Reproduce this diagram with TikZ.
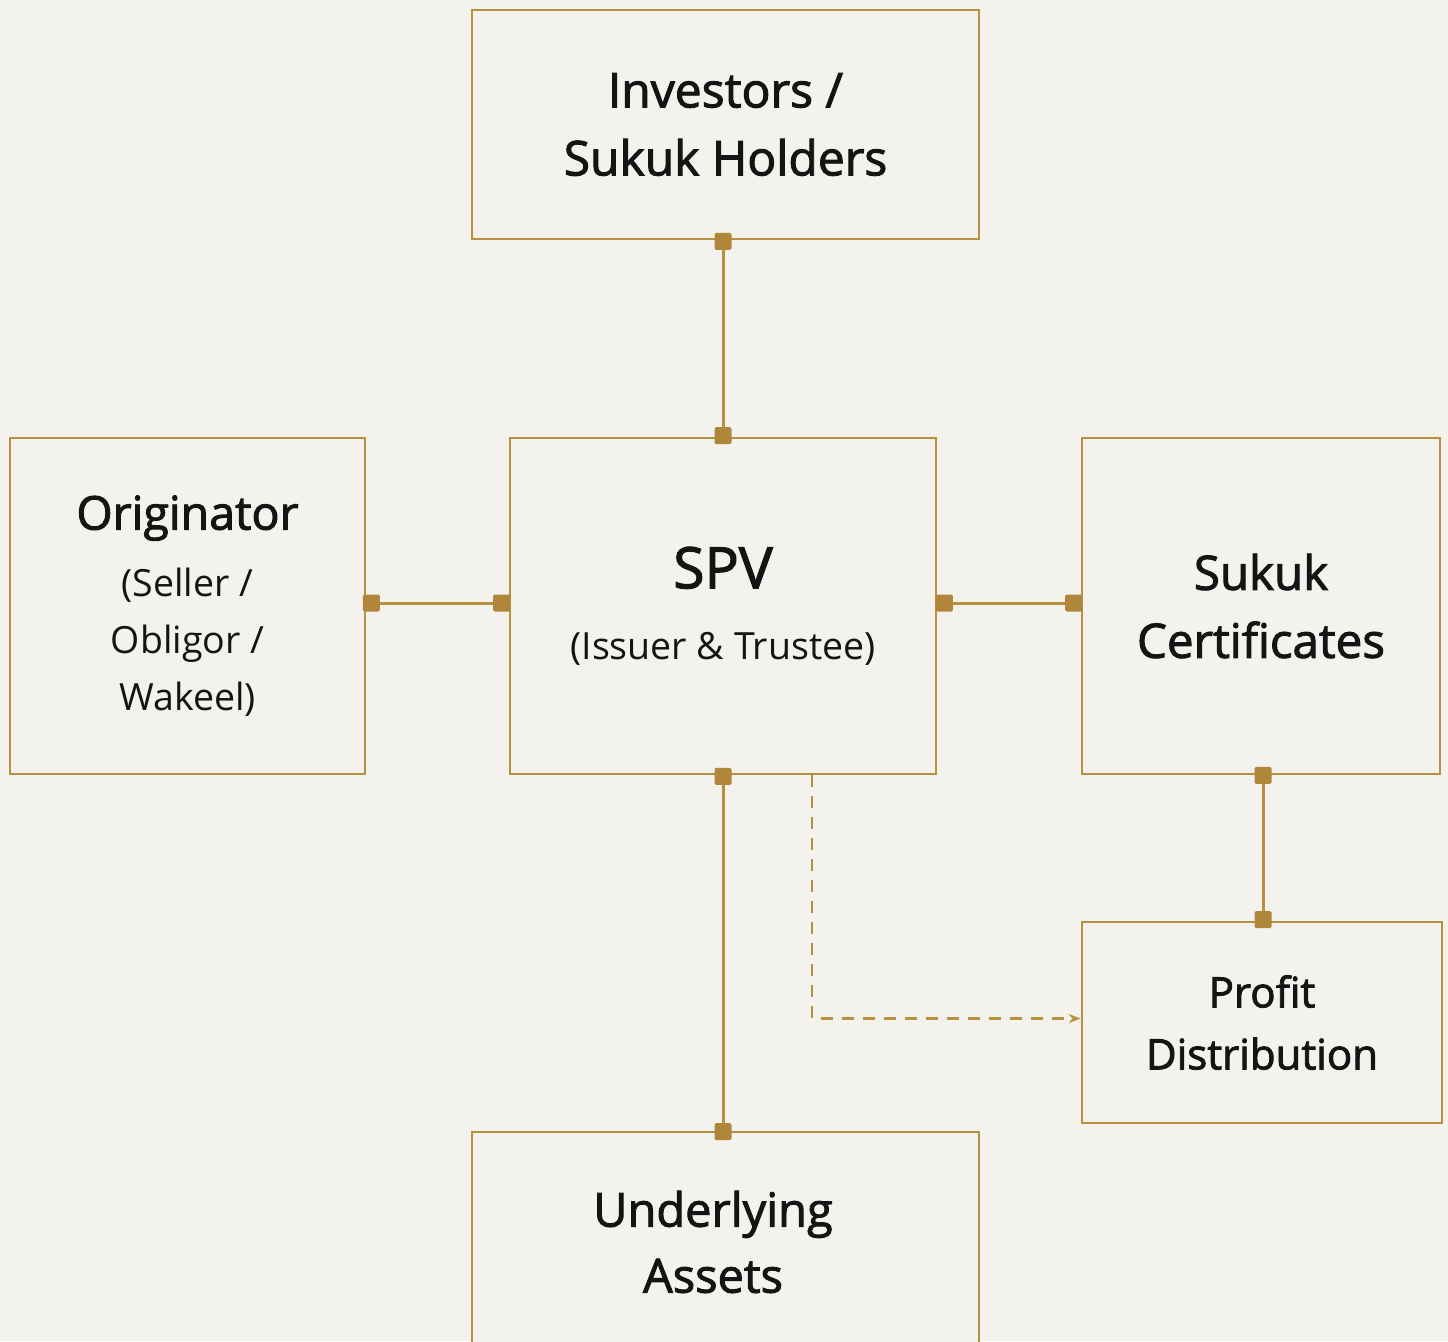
\documentclass[tikz,border=0pt]{standalone}
\usepackage{fontspec}
\setmainfont{Open Sans}
\newfontfamily\headfont[FakeBold=2]{Open Sans}
\newfontfamily\bodyfont{Open Sans}
\usetikzlibrary{arrows.meta,calc}
\definecolor{bgcream}{HTML}{F4F2ED}
\definecolor{gold}{HTML}{B8913F}
\definecolor{golddark}{HTML}{B0863A}
\definecolor{ink}{HTML}{141414}
\tikzset{
  box/.style={draw=gold, line width=2.8pt, fill=bgcream, inner sep=0pt, align=center, text=ink},
  label text/.style={inner sep=0pt, align=center, text=ink},
  link/.style={draw=gold, line width=3pt},
  pin/.style={fill=golddark, minimum size=17pt, inner sep=0pt, rounded corners=1.5pt},
  flow/.style={draw=gold, line width=2.2pt, dash pattern=on 12pt off 9pt, -{Stealth[length=12pt,width=9pt]}}
}
\newcommand{\sub}{\bodyfont\fontsize{37.5}{57}\selectfont}
\begin{document}
\begin{tikzpicture}[x=1pt,y=-1pt]
  \fill[bgcream] (0,0) rectangle (1448,1341);
  \useasboundingbox (0,0) rectangle (1448,1341);

  % boxes
  \node[box, minimum width=507pt, minimum height=229pt,
        font=\headfont\fontsize{48}{68}\selectfont] (inv) at (725.5,124.5)
    {Investors /\\ Sukuk Holders};
  \node[box, minimum width=355pt, minimum height=336pt,
        font=\headfont\fontsize{46.5}{57}\selectfont] (orig) at (187.5,606)
    {Originator\\[10pt]
     {\sub (Seller /}\\ {\sub Obligor /}\\ {\sub Wakeel)}};
  \node[box, minimum width=426pt, minimum height=336pt,
        font=\headfont\fontsize{57}{71}\selectfont] (spv) at (723,606)
    {SPV\\ {\sub (Issuer \& Trustee)}};
  \node[box, minimum width=358pt, minimum height=336pt,
        font=\headfont\fontsize{47.5}{68}\selectfont] (cert) at (1261,606)
    {Sukuk\\ Certificates};
  \node[box, minimum width=360pt, minimum height=201pt,
        font=\headfont\fontsize{42}{62}\selectfont] (prof) at (1262,1022.5)
    {Profit\\ Distribution};
  \node[box, minimum width=507pt, minimum height=220pt] (asset) at (725.5,1242) {};
  \node[label text, font=\headfont\fontsize{47}{66}\selectfont] (assetText) at (713,1242)
    {Underlying\\ Assets};

  % link ends (connectors sit a little above the box centres)
  \coordinate (invB) at (inv.south -| spv.north);
  \coordinate (assetT) at (asset.north -| spv.south);
  \coordinate (origR) at ($(orig.east)+(0,-3)$);
  \coordinate (spvL) at ($(spv.west)+(0,-3)$);
  \coordinate (spvR) at ($(spv.east)+(0,-3)$);
  \coordinate (certL) at ($(cert.west)+(0,-3)$);
  \coordinate (certB) at ($(cert.south)+(2,0)$);
  \coordinate (profT) at (prof.north -| certB);

  % solid links
  \path[link] (invB) -- (spv.north);
  \path[link] (origR) -- (spvL);
  \path[link] (spvR) -- (certL);
  \path[link] (spv.south) -- (assetT);
  \path[link] (certB) -- (profT);

  % dashed flow to profit distribution
  \coordinate (dstart) at ($(spv.south)+(89,0)$);
  \draw[flow] (dstart) |- ($(prof.west)+(0,-4)$);

  % square pins on link ends
  \node[pin] (p1) at ($(invB)+(0,1)$) {};
  \node[pin] (p2) at ($(spv.north)+(0,-1)$) {};
  \node[pin] (p3) at ($(origR)+(5,0)$) {};
  \node[pin] (p4) at ($(spvL)+(-7,0)$) {};
  \node[pin] (p5) at ($(spvR)+(7,0)$) {};
  \node[pin] (p6) at ($(certL)+(-7,0)$) {};
  \node[pin] (p7) at ($(spv.south)+(0,1)$) {};
  \node[pin] (p8) at ($(assetT)+(0,1)$) {};
  \node[pin] (p9) at (certB) {};
  \node[pin] (p10) at ($(profT)+(0,-1)$) {};
\end{tikzpicture}
\end{document}
